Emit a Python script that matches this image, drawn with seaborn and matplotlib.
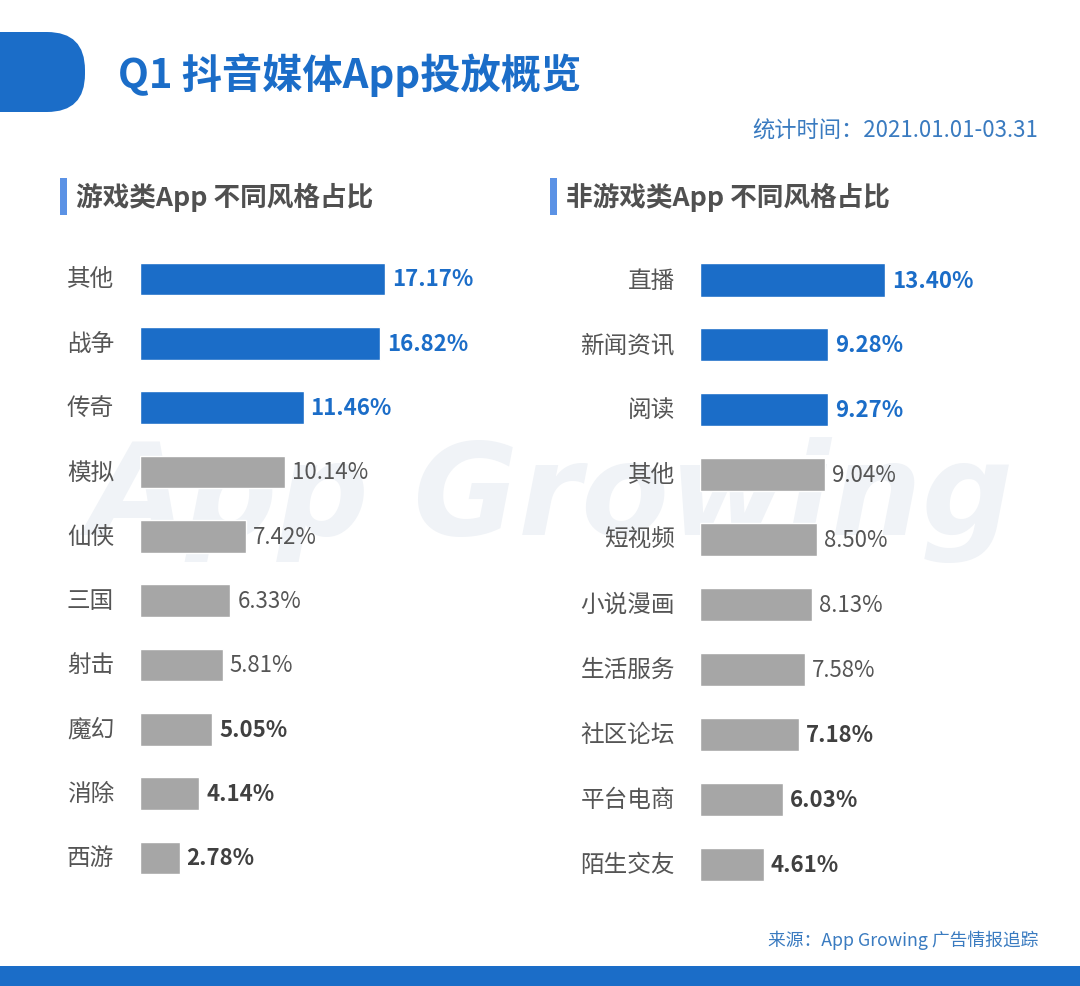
import numpy as np
import pandas as pd
import matplotlib
matplotlib.use("Agg")
import matplotlib.pyplot as plt
import matplotlib.transforms as mtrans
from matplotlib.patches import FancyBboxPatch, Rectangle
import seaborn as sns

sns.set_theme(style="white")
plt.rcParams['font.family'] = ['Noto Sans CJK SC', 'DejaVu Sans']

# data
game_cats = ['其他', '战争', '传奇', '模拟', '仙侠', '三国', '射击', '魔幻', '消除', '西游']
game_vals = [17.17, 16.82, 11.46, 10.14, 7.42, 6.33, 5.81, 5.05, 4.14, 2.78]
app_cats = ['直播', '新闻资讯', '阅读', '其他', '短视频', '小说漫画', '生活服务', '社区论坛', '平台电商', '陌生交友']
app_vals = [13.40, 9.28, 9.27, 9.04, 8.50, 8.13, 7.58, 7.18, 6.03, 4.61]
# label style per row: 'hi' = blue bold, 'reg' = gray regular, 'bold' = dark bold
game_style = ['hi', 'hi', 'hi', 'reg', 'reg', 'reg', 'reg', 'bold', 'bold', 'bold']
app_style = ['hi', 'hi', 'hi', 'reg', 'reg', 'reg', 'reg', 'bold', 'bold', 'bold']

BLUE = '#1b6dc8'
GRAY = '#a6a6a6'
W, H = 1080, 987

fig = plt.figure(figsize=(W / 100, H / 100), dpi=100)
fig.patch.set_facecolor('white')

# background / decoration axes in pixel coords
bg = fig.add_axes([0, 0, 1, 1], zorder=0)
bg.set_xlim(0, W)
bg.set_ylim(H, 0)
bg.axis('off')

bg.add_patch(FancyBboxPatch((-60, 33), 145, 80, boxstyle="round,pad=0,rounding_size=38",
                            fc=BLUE, ec='none'))
bg.text(118, 75, 'Q1 抖音媒体App投放概览', fontsize=29, fontweight='bold', color=BLUE,
        va='center', ha='left')
bg.text(1038, 131, '统计时间：2021.01.01-03.31', fontsize=16, color='#3a7bc0',
        va='center', ha='right')

for x0, txt in [(60, '游戏类App 不同风格占比'), (550, '非游戏类App 不同风格占比')]:
    bg.add_patch(Rectangle((x0, 179), 7, 37, fc='#5b92e5', ec='none'))
    bg.text(x0 + 16, 197, txt, fontsize=19.2, fontweight='bold', color='#505050',
            va='center', ha='left')

# faint watermark
bg.text(550, 500, 'App Growing', fontsize=92, fontstyle='italic', fontweight='bold',
        color='#f0f3f7', va='center', ha='center', family='DejaVu Sans')

bg.text(1038, 940, '来源：App Growing 广告情报追踪', fontsize=12.8, color='#3a7bc0',
        va='center', ha='right')
bg.add_patch(Rectangle((0, 967), W, 25, fc=BLUE, ec='none'))


def panel(cats, vals, styles, left_px, scale, top_c, step, label_x, label_ha):
    n = len(cats)
    width_px = 380
    top = top_c - step / 2
    bottom = top_c + step * (n - 1) + step / 2
    ax = fig.add_axes([left_px / W, 1 - bottom / H, width_px / W, (bottom - top) / H], zorder=1)
    ax.patch.set_alpha(0)
    df = pd.DataFrame({'cat': cats, 'val': vals})
    colors = [BLUE if s == 'hi' else GRAY for s in styles]
    sns.barplot(data=df, x='val', y='cat', hue='cat', palette=colors, legend=False,
                orient='h', width=0.51, ax=ax, saturation=1)
    ax.set_xlim(0, width_px / scale)
    ax.set_ylim(n - 0.5, -0.5)
    ax.axis('off')
    for i, (v, s) in enumerate(zip(vals, styles)):
        if s == 'hi':
            c, w = BLUE, 'bold'
        elif s == 'bold':
            c, w = '#404040', 'bold'
        else:
            c, w = '#555555', 'normal'
        ax.annotate(f'{v:.2f}%', (v, i), xytext=(5, 0), textcoords='offset points',
                    va='center', ha='left', fontsize=16, color=c, fontweight=w)
    tr = mtrans.blended_transform_factory(bg.transData, ax.transData)
    for i, c in enumerate(cats):
        fig.text(label_x, i, c, transform=tr, fontsize=17, color='#555555',
                 va='center', ha=label_ha)
    return ax


panel(game_cats, game_vals, game_style, 140, 245 / 17.17, 280, 64.33, 67, 'left')
panel(app_cats, app_vals, app_style, 700, 185 / 13.40, 281, 64.9, 675, 'right')

fig.savefig('out.png', dpi=100, facecolor='white')
